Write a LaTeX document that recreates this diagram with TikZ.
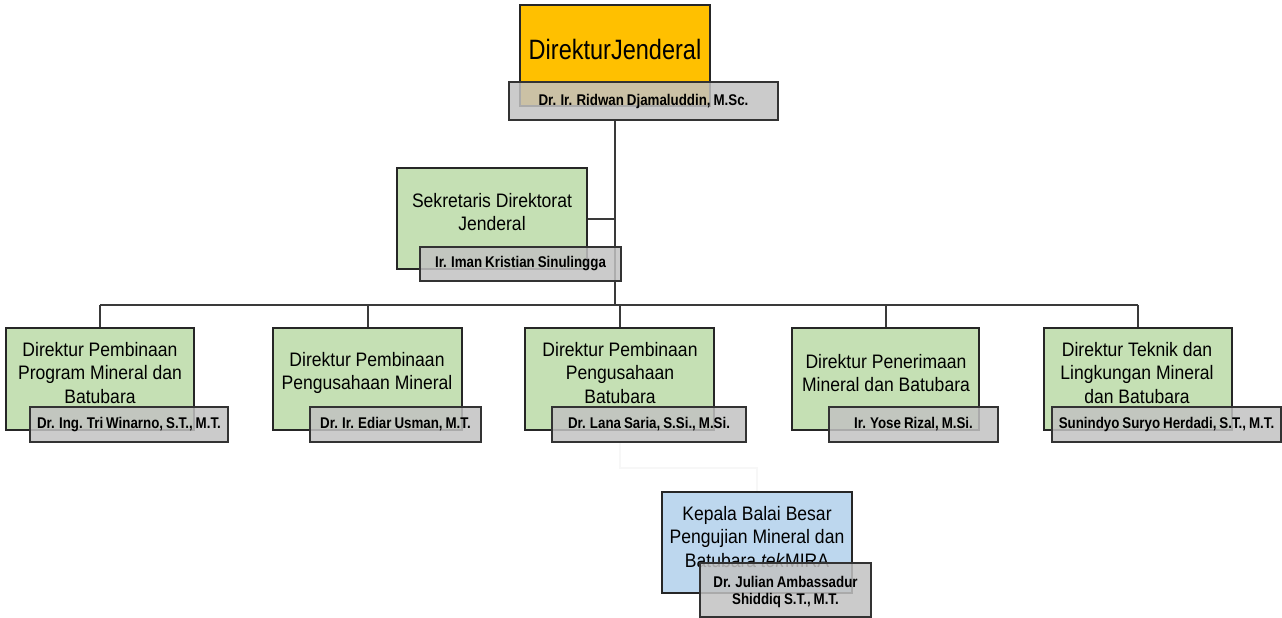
\documentclass[tikz,border=0pt]{standalone}
\usepackage{fontspec}
\setmainfont{Liberation Sans}
\newfontfamily\headfont{Liberation Sans}[FakeStretch=0.84]
\newfontfamily\unitfont{Liberation Sans}[FakeStretch=0.9]
\newfontfamily\personfont{Liberation Sans}[FakeStretch=0.86,WordSpace=0.8]
\definecolor{headfill}{HTML}{FFC000}
\definecolor{unitfill}{HTML}{C5E0B4}
\definecolor{balaifill}{HTML}{BDD7EE}
\definecolor{personfill}{HTML}{C2C2C2}
\definecolor{linkcol}{HTML}{3A3A3A}
\begin{document}
\begin{tikzpicture}[x=1pt,y=-1pt,
  box/.style={draw=black!85,line width=1.3pt,inner sep=0pt,anchor=center},
  headbox/.style={box,fill=headfill,minimum width=190pt,minimum height=101pt},
  unitbox/.style={box,fill=unitfill,minimum width=189pt,minimum height=102pt},
  balaibox/.style={box,fill=balaifill,minimum width=190pt,minimum height=101pt},
  personbox/.style={box,draw=black!80,fill=personfill,fill opacity=0.85,text opacity=1,minimum height=35pt},
  unittext/.style={align=center,inner sep=0pt,font=\unitfont\fontsize{19.5}{23.5}\selectfont},
  persontext/.style={align=center,inner sep=0pt,font=\personfont\bfseries\fontsize{15.5}{17.5}\selectfont},
  link/.style={draw=linkcol,line width=2pt},
  faintlink/.style={draw=black!3,line width=1.5pt}]
\useasboundingbox (0,0) rectangle (1282,618);

% boxes of the units
\node[headbox] (dj) at (615,55.5) {};
\node[inner sep=0pt,font=\headfont\fontsize{28}{32}\selectfont] (djt) at (615,49) {DirekturJenderal};

\node[unitbox,minimum width=190pt,minimum height=101pt] (sek) at (492,218.5) {};
\node[unittext] (sekt) at (492,212) {Sekretaris Direktorat\\Jenderal};

\node[unitbox,minimum width=188pt] (d1) at (100,379) {};
\node[unittext] (d1t) at (100,373) {Direktur Pembinaan\\Program Mineral dan\\Batubara};

\node[unitbox] (d2) at (367.5,379) {};
\node[unittext] (d2t) at (367,373) {Direktur Pembinaan\\Pengusahaan Mineral};

\node[unitbox] (d3) at (619.5,379) {};
\node[unittext] (d3t) at (620,373) {Direktur Pembinaan\\Pengusahaan\\Batubara};

\node[unitbox,minimum width=187pt] (d4) at (885.5,379) {};
\node[unittext] (d4t) at (886,373) {Direktur Penerimaan\\Mineral dan Batubara};

\node[unitbox,minimum width=188pt] (d5) at (1138,379) {};
\node[unittext] (d5t) at (1137,373) {Direktur Teknik dan\\Lingkungan Mineral\\dan Batubara};

\node[balaibox] (kb) at (757,542.5) {};
\node[unittext] (kbt) at (757,537) {Kepala Balai Besar\\Pengujian Mineral dan\\Batubara \textit{tek}MIRA};

% office holder of the top box, needed for the first connector
\node[personbox,minimum width=269pt,minimum height=38pt] (djn) at (643.5,101) {};
\node[persontext] at (djn.center) {Dr. Ir. Ridwan Djamaluddin, M.Sc.};

% connectors
\coordinate (bus) at (615,305);
\path[link] (dj.south |- djn.south) -- (bus);
\path[link] (sek.east) -- (sek.east -| bus);
\path[link] (d1.north |- bus) -- (d5.north |- bus);
\foreach \d in {d1,d2,d3,d4,d5}
  \path[link] (\d.north |- bus) -- (\d.north);
\path[faintlink] (620,442) -- ++(0,26) -| (kb.north);

% boxes of the office holders
\node[personbox,minimum width=201pt,minimum height=34pt] (sekn) at (520.5,264) {};
\node[persontext] at (sekn.center) {Ir. Iman Kristian Sinulingga};

\node[personbox,minimum width=198pt] (d1n) at (129,424.5) {};
\node[persontext] at (d1n.center) {Dr. Ing. Tri Winarno, S.T., M.T.};

\node[personbox,minimum width=171pt] (d2n) at (395.5,424.5) {};
\node[persontext] at (d2n.center) {Dr. Ir. Ediar Usman, M.T.};

\node[personbox,minimum width=194pt] (d3n) at (649,424.5) {};
\node[persontext] at (d3n.center) {Dr. Lana Saria, S.Si., M.Si.};

\node[personbox,minimum width=169pt] (d4n) at (913.5,424.5) {};
\node[persontext] at (d4n.center) {Ir. Yose Rizal, M.Si.};

\node[personbox,minimum width=229pt] (d5n) at (1166.5,424.5) {};
\node[persontext] at (d5n.center) {Sunindyo Suryo Herdadi, S.T., M.T.};

\node[personbox,minimum width=171pt,minimum height=54pt] (kbn) at (785.5,590) {};
\node[persontext] at (785.5,592) {Dr. Julian Ambassadur\\Shiddiq S.T., M.T.};
\end{tikzpicture}
\end{document}
